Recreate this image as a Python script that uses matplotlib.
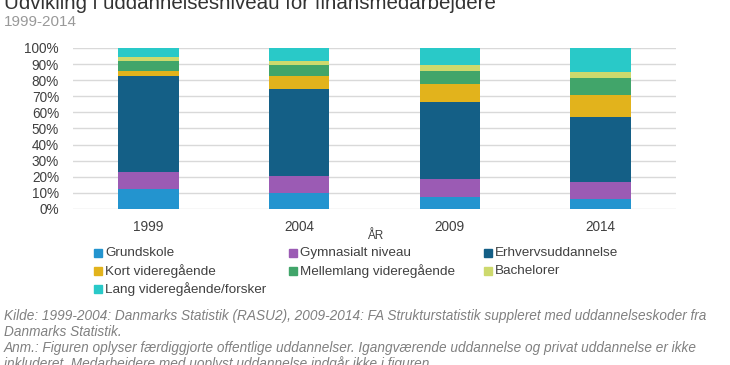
import matplotlib
matplotlib.use("Agg")
import matplotlib.pyplot as plt
from matplotlib.patches import Rectangle
import numpy as np

plt.rcParams['font.family'] = ['Liberation Sans', 'DejaVu Sans']

years = ["1999", "2004", "2009", "2014"]
categories = ["Grundskole", "Gymnasialt niveau", "Erhvervsuddannelse",
              "Kort videregående", "Mellemlang videregående", "Bachelorer",
              "Lang videregående/forsker"]
grundskole = [12.2, 9.7, 7.5, 6.0]
gymnasialt = [11.0, 11.0, 11.3, 11.0]
erhverv = [59.2, 53.8, 47.5, 39.9]
kort = [3.5, 7.9, 11.3, 13.9]
mellemlang = [6.2, 7.2, 7.9, 10.4]
bachelor = [2.5, 2.5, 3.7, 4.1]
lang = [5.4, 7.9, 10.8, 14.7]
series = [grundskole, gymnasialt, erhverv, kort, mellemlang, bachelor, lang]
colors = ["#2394cf", "#9b5bb4", "#145f86", "#e2b31c", "#41a56a", "#cdd96d", "#29c9c8"]

fig = plt.figure(figsize=(7.3, 3.65), dpi=100)
ax = fig.add_axes([73/730, 1-209/365, (676-73)/730, (209-48)/365])

x = np.arange(len(years))
bottom = np.zeros(len(years))
for vals, c, name in zip(series, colors, categories):
    ax.bar(x, vals, 0.4, bottom=bottom, color=c, label=name, zorder=3)
    bottom += np.array(vals)

ax.set_xlim(-0.5, 3.5)
ax.set_ylim(0, 100)
ax.set_yticks(np.arange(0, 101, 10))
ax.set_yticklabels([f"{v}%" for v in range(0, 101, 10)])
ax.set_xticks(x)
ax.set_xticklabels(years)
ax.tick_params(length=0, labelsize=9.8, colors="#404040")
ax.tick_params(axis='y', pad=10)
ax.tick_params(axis='x', pad=8)
ax.grid(axis='y', color="#d9d9d9", linewidth=1, zorder=0)
for s in ax.spines.values():
    s.set_visible(False)
fig.text(375/730, 1-236/365, "ÅR", fontsize=8.5, color="#404040", va='center', ha='center')

fig.text(4/730, 1-9/365, "Udvikling i uddannelsesniveau for finansmedarbejdere",
         fontsize=14.8, color="#333333", va='baseline', ha='left')
fig.text(4/730, 1-26/365, "1999-2014", fontsize=11, color="#999999", va='baseline', ha='left')

# legend
cols = [94, 289, 484]
rows = [253, 271, 289]
for i, (name, c) in enumerate(zip(categories, colors)):
    r, k = divmod(i, 3)
    xp, yp = cols[k], rows[r]
    fig.patches.append(Rectangle((xp/730, 1-(yp+3.5)/365), 7.5/730, 7.5/365,
                                 transform=fig.transFigure, color=c, figure=fig))
    fig.text((xp+11)/730, 1-yp/365, name, fontsize=9.7, color="#404040", va='center', ha='left')

notes = ["Kilde: 1999-2004: Danmarks Statistik (RASU2), 2009-2014: FA Strukturstatistik suppleret med uddannelseskoder fra",
         "Danmarks Statistik.",
         "Anm.: Figuren oplyser færdiggjorte offentlige uddannelser. Igangværende uddannelse og privat uddannelse er ikke",
         "inkluderet. Medarbejdere med uoplyst uddannelse indgår ikke i figuren."]
for i, t in enumerate(notes):
    fig.text(4/730, 1-(320 + 16*i)/365, t, fontsize=9.8, color="#808080", style='italic',
             va='baseline', ha='left')

fig.savefig("out.png", dpi=100, facecolor="white")
